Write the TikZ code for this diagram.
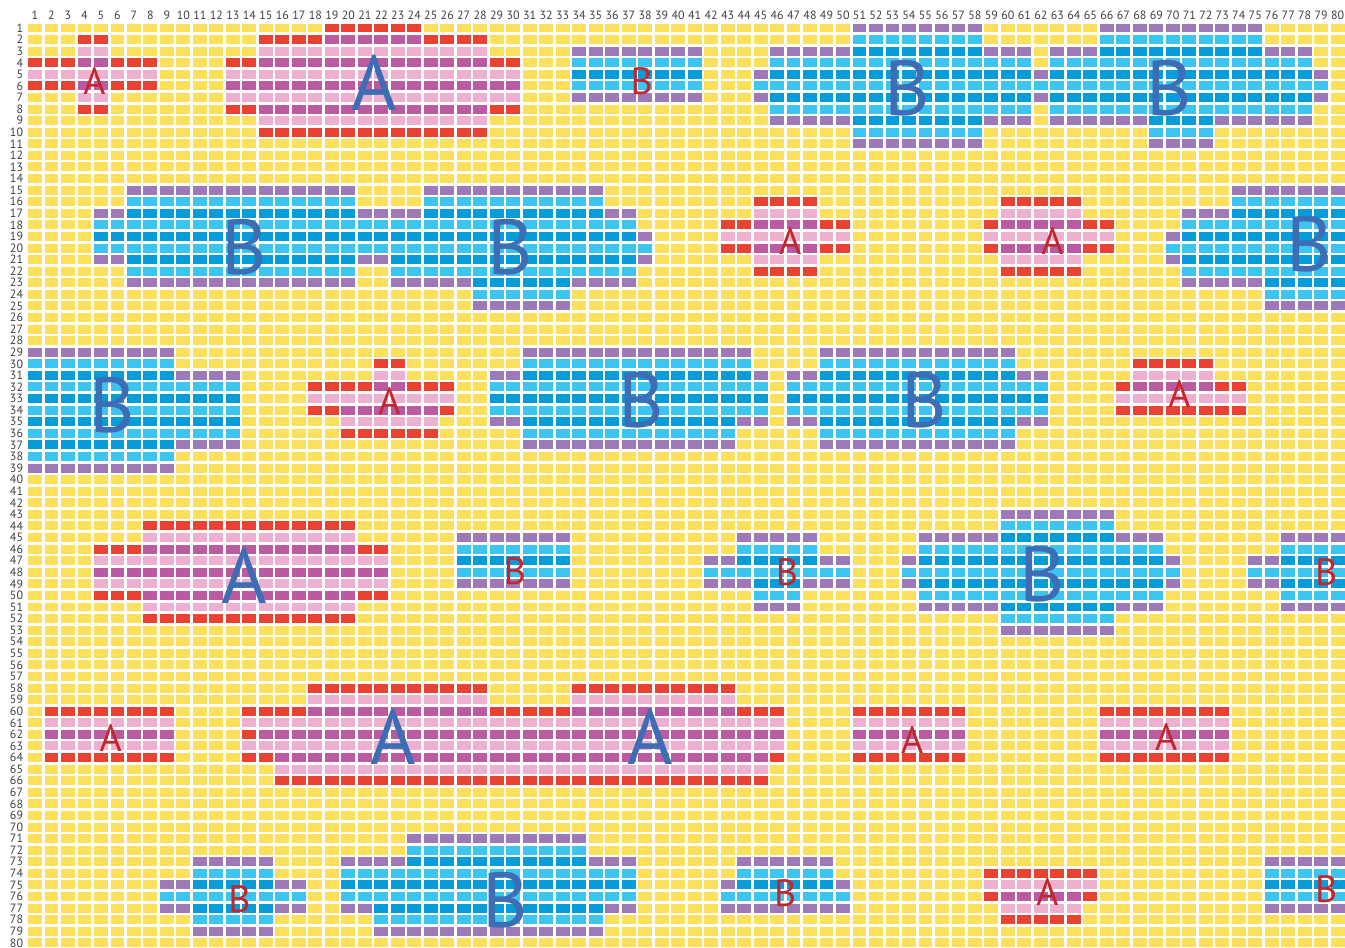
\documentclass[tikz,border=0pt]{standalone}
\usepackage{fontspec}
\setmainfont{PT Sans}
\usetikzlibrary{calc}

\definecolor{cellfill}{HTML}{FCE05C}
\definecolor{eA}{HTML}{E94230}
\definecolor{cA1}{HTML}{EDB0D1}
\definecolor{cA0}{HTML}{BB5AA3}
\definecolor{eB}{HTML}{9D79B8}
\definecolor{cB0}{HTML}{3CC5F1}
\definecolor{cB1}{HTML}{069BD9}
\definecolor{bigtext}{HTML}{3D6DB5}
\definecolor{smalltext}{HTML}{C1272D}

\def\blobs{A/4/5/2/8, A/1/8/4/6,
  A/19/24/1/10, A/15/28/2/10, A/13/30/4/8,
  B/34/41/3/7,
  B/51/58/1/11, B/46/61/3/9, B/45/45/5/7, B/62/62/5/7, B/63/78/3/9, B/66/75/1/9, B/69/72/1/11, B/79/79/5/7,
  B/7/20/15/23, B/5/37/17/21, B/25/35/15/23, B/23/37/17/23, B/28/33/15/25, B/38/38/19/21,
  A/45/48/16/22, A/43/50/18/20,
  A/60/64/16/22, A/59/66/18/20,
  B/74/80/15/23, B/71/80/17/23, B/70/70/19/21, B/76/80/15/25,
  B/1/9/29/39, B/1/13/31/37,
  A/22/23/30/36, A/18/26/32/34, A/20/25/32/36,
  B/31/43/29/37, B/31/44/29/35, B/29/45/31/35,
  B/49/60/29/37, B/47/62/31/35,
  A/68/72/30/34, A/67/74/32/34,
  A/8/20/44/52, A/5/22/46/50,
  B/27/33/45/49,
  B/44/48/45/49, B/42/50/47/49, B/45/47/45/51,
  B/60/66/43/53, B/55/69/45/51, B/54/70/47/49,
  B/77/80/45/51, B/75/80/47/49,
  A/2/9/60/64,
  A/18/28/58/66, A/34/43/58/66, A/15/46/60/64, A/16/45/62/66, A/14/14/60/62, A/14/14/62/64,
  A/51/57/60/64,
  A/66/73/60/64,
  B/11/15/73/79, B/9/17/75/77,
  B/24/34/71/79, B/20/37/73/77, B/22/35/75/79,
  B/44/49/73/77, B/43/50/75/77,
  A/59/65/74/76, A/60/64/74/78,
  B/76/80/73/77}

\begin{document}
\begin{tikzpicture}[x=8.245pt,y=-5.79pt]
\tikzstyle{gap}=[white,line width=1.3pt]
\tikzstyle{idx}=[text=black!75,font=\fontsize{6}{7}\selectfont,inner sep=0pt]
\tikzstyle{big}=[text=bigtext,font=\fontsize{39}{39}\selectfont,inner sep=0pt]
\tikzstyle{small}=[text=smalltext,font=\fontsize{19}{19}\selectfont,inner sep=0pt]
\useasboundingbox (0pt,0pt) rectangle (672.5pt,-474pt);
\fill[white] (0pt,0pt) rectangle (672.5pt,-474pt);
\begin{scope}[shift={(9.255pt,-8.21pt)}]
\fill[cellfill] (0.5,0.5) rectangle (80.5,80.5);
% top and bottom rows of every block
\foreach \t/\a/\b/\p/\q in \blobs {
  \edef\edgecol{e\t}
  \fill[fill=\edgecol] (\a-0.5,\p-0.5) rectangle (\b+0.5,\p+0.5);
  \fill[fill=\edgecol] (\a-0.5,\q-0.5) rectangle (\b+0.5,\q+0.5);
}
% inner rows, alternating
\foreach \t/\a/\b/\p/\q in \blobs {
  \pgfmathtruncatemacro\rs{\p+1}
  \pgfmathtruncatemacro\re{\q-1}
  \foreach \r in {\rs,...,\re} {
    \pgfmathtruncatemacro\k{mod(\r,2)}
    \edef\tone{c\t\k}
    \fill[fill=\tone] (\a-0.5,\r-0.5) rectangle (\b+0.5,\r+0.5);
  }
}
\foreach \c in {0,...,80} \draw[gap] (\c+0.5,0.5) -- (\c+0.5,80.5);
\foreach \r in {0,...,80} \draw[gap] (0.5,\r+0.5) -- (80.5,\r+0.5);
\foreach \c in {1,...,80} \node[idx] (col\c) at (\c,-0.1) {\c};
\foreach \r in {1,...,80} \node[idx,anchor=east] (row\r) at (0.3,\r) {\r};
\foreach \s/\x/\y [count=\i] in {A/21.6/5.7, B/53.9/6.2, B/69.8/6.2,
  B/13.7/19.9, B/29.8/19.9, B/78.3/19.7,
  B/5.7/33.6, B/37.75/33.1, B/54.9/33.1,
  A/13.7/48.3, B/62.1/48.2,
  A/22.7/62.2, A/38.3/62.2,
  B/29.5/76.3}
  \node[big] (big\i) at (\x,\y) {\s};
\foreach \s/\x/\y [count=\i] in {A/4.6/5.6, B/37.8/5.6,
  A/46.8/19.4, A/62.7/19.4,
  A/22.5/33.2, A/70.4/32.6,
  B/30.1/47.9, B/46.6/48.0, B/79.3/48.0,
  A/5.6/62.3, A/54.2/62.5, A/69.6/62.2,
  B/13.4/76.2, B/46.5/75.7, A/62.4/75.6, B/79.3/75.4}
  \node[small] (small\i) at (\x,\y) {\s};
\end{scope}
\end{tikzpicture}
\end{document}
